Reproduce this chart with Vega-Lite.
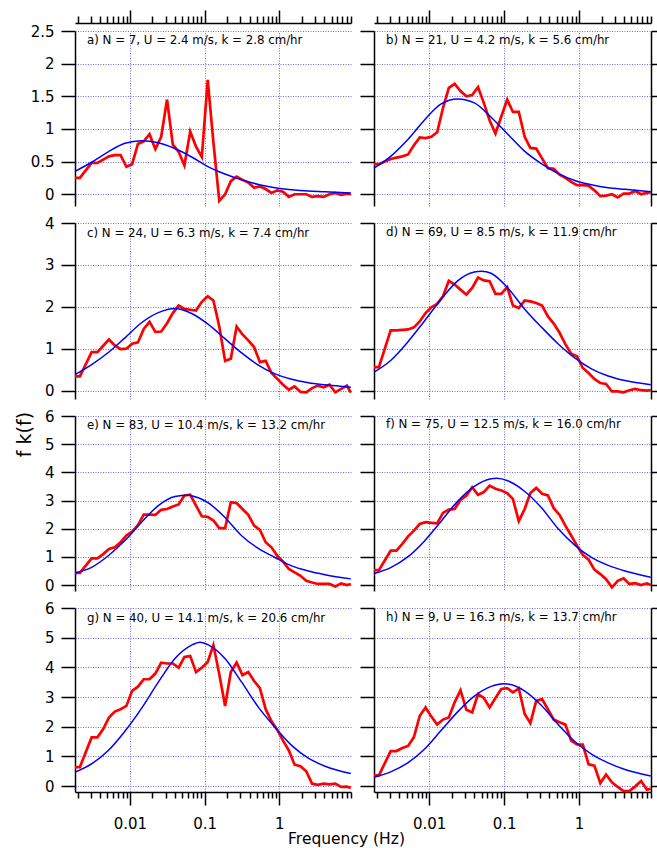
{
"$schema": "https://vega.github.io/schema/vega-lite/v6.json",
"autosize": {"type": "none"},
"padding": {"left": 75, "top": 31, "right": 582, "bottom": 817},
"config": {
 "view": {"stroke": null},
 "font": "DejaVu Sans",
 "axis": {"domainColor": "#000000", "domainWidth": 1.5, "tickColor": "#000000", "tickWidth": 1.5, "labelColor": "#000000", "labelFont": "DejaVu Sans", "titleFont": "DejaVu Sans", "titleColor": "#000000", "titleFontWeight": "normal", "gridColor": "#6a6aff", "gridDash": [1, 1.5], "gridWidth": 1, "gridOpacity": 1, "labelFlush": false, "labelOverlap": false},
 "title": {"font": "DejaVu Sans", "fontSize": 11.8, "fontWeight": "normal", "color": "#000000", "anchor": "start", "frame": "group", "dx": 12}
},
"datasets": {
 "obs": [
  {"hz":0.00184,"a":0.25,"b":0.46,"c":0.34,"d":0.56,"e":0.43,"f":0.53,"g":0.64,"h":0.36},
  {"hz":0.00214,"a":0.25,"b":0.46,"c":0.34,"d":0.56,"e":0.43,"f":0.53,"g":0.64,"h":0.36},
  {"hz":0.00307,"a":0.48,"b":0.54,"c":0.92,"d":1.44,"e":0.95,"f":1.22,"g":1.64,"h":1.18},
  {"hz":0.00367,"a":0.48,"b":0.56,"c":0.92,"d":1.44,"e":0.95,"f":1.22,"g":1.64,"h":1.18},
  {"hz":0.00439,"a":0.53,"b":0.58,"c":1.07,"d":1.45,"e":1.10,"f":1.46,"g":1.92,"h":1.28},
  {"hz":0.00524,"a":0.58,"b":0.61,"c":1.22,"d":1.46,"e":1.28,"f":1.73,"g":2.31,"h":1.35},
  {"hz":0.00627,"a":0.60,"b":0.75,"c":1.08,"d":1.51,"e":1.34,"f":1.93,"g":2.51,"h":1.65},
  {"hz":0.0075,"a":0.60,"b":0.87,"c":0.99,"d":1.65,"e":1.52,"f":2.17,"g":2.59,"h":2.37},
  {"hz":0.00897,"a":0.42,"b":0.86,"c":1.00,"d":1.85,"e":1.76,"f":2.23,"g":2.70,"h":2.65},
  {"hz":0.0107,"a":0.46,"b":0.88,"c":1.12,"d":1.99,"e":1.90,"f":2.21,"g":3.21,"h":2.34},
  {"hz":0.0128,"a":0.77,"b":0.95,"c":1.15,"d":2.07,"e":2.13,"f":2.19,"g":3.35,"h":2.07},
  {"hz":0.0153,"a":0.81,"b":1.32,"c":1.47,"d":2.25,"e":2.50,"f":2.56,"g":3.60,"h":2.24},
  {"hz":0.0183,"a":0.92,"b":1.63,"c":1.64,"d":2.62,"e":2.50,"f":2.68,"g":3.60,"h":2.31},
  {"hz":0.0219,"a":0.69,"b":1.69,"c":1.40,"d":2.53,"e":2.49,"f":2.70,"g":3.79,"h":2.82},
  {"hz":0.0262,"a":0.88,"b":1.58,"c":1.41,"d":2.41,"e":2.67,"f":3.02,"g":4.16,"h":3.23},
  {"hz":0.0314,"a":1.45,"b":1.50,"c":1.61,"d":2.29,"e":2.70,"f":3.18,"g":4.13,"h":2.57},
  {"hz":0.0375,"a":0.76,"b":1.52,"c":1.85,"d":2.45,"e":2.79,"f":3.47,"g":4.13,"h":2.48},
  {"hz":0.0449,"a":0.65,"b":1.64,"c":2.03,"d":2.70,"e":2.86,"f":3.20,"g":3.99,"h":3.10},
  {"hz":0.0536,"a":0.44,"b":1.40,"c":1.95,"d":2.63,"e":3.18,"f":3.30,"g":4.35,"h":2.97},
  {"hz":0.0641,"a":0.96,"b":1.13,"c":1.93,"d":2.61,"e":3.21,"f":3.53,"g":4.38,"h":2.65},
  {"hz":0.0767,"a":0.73,"b":0.93,"c":1.91,"d":2.31,"e":2.82,"f":3.42,"g":3.84,"h":2.97},
  {"hz":0.0917,"a":0.57,"b":1.19,"c":2.12,"d":2.31,"e":2.44,"f":3.36,"g":3.99,"h":3.27},
  {"hz":0.110,"a":1.75,"b":1.45,"c":2.25,"d":2.47,"e":2.42,"f":3.26,"g":4.18,"h":3.30},
  {"hz":0.131,"a":0.80,"b":1.26,"c":2.15,"d":2.03,"e":2.29,"f":3.06,"g":4.75,"h":3.16},
  {"hz":0.157,"a":-0.10,"b":1.26,"c":1.53,"d":1.97,"e":2.02,"f":2.27,"g":3.77,"h":3.29},
  {"hz":0.188,"a":0.00,"b":0.88,"c":0.71,"d":2.15,"e":2.02,"f":2.70,"g":2.70,"h":2.43},
  {"hz":0.224,"a":0.20,"b":0.71,"c":0.76,"d":2.13,"e":2.94,"f":3.27,"g":3.84,"h":2.12},
  {"hz":0.268,"a":0.27,"b":0.70,"c":1.53,"d":2.09,"e":2.91,"f":3.45,"g":4.16,"h":2.87},
  {"hz":0.321,"a":0.22,"b":0.55,"c":1.34,"d":2.03,"e":2.70,"f":3.24,"g":3.74,"h":2.93},
  {"hz":0.384,"a":0.18,"b":0.40,"c":1.20,"d":1.77,"e":2.49,"f":3.18,"g":3.84,"h":2.59},
  {"hz":0.459,"a":0.10,"b":0.39,"c":1.04,"d":1.60,"e":2.11,"f":2.73,"g":3.54,"h":2.24},
  {"hz":0.549,"a":0.12,"b":0.30,"c":0.68,"d":1.38,"e":1.96,"f":2.49,"g":3.30,"h":2.15},
  {"hz":0.656,"a":0.08,"b":0.25,"c":0.71,"d":1.11,"e":1.52,"f":2.11,"g":2.59,"h":2.07},
  {"hz":0.784,"a":0.02,"b":0.19,"c":0.42,"d":0.88,"e":1.34,"f":1.76,"g":2.18,"h":1.53},
  {"hz":0.938,"a":0.06,"b":0.14,"c":0.28,"d":0.82,"e":1.04,"f":1.40,"g":1.89,"h":1.40},
  {"hz":1.12,"a":0.04,"b":0.14,"c":0.14,"d":0.54,"e":0.83,"f":1.07,"g":1.53,"h":1.40},
  {"hz":1.34,"a":-0.04,"b":0.13,"c":0.02,"d":0.42,"e":0.57,"f":0.90,"g":1.20,"h":0.73},
  {"hz":1.60,"a":0.00,"b":0.06,"c":0.10,"d":0.28,"e":0.45,"f":0.55,"g":0.72,"h":0.69},
  {"hz":1.92,"a":0.00,"b":-0.03,"c":-0.03,"d":0.18,"e":0.33,"f":0.39,"g":0.67,"h":0.10},
  {"hz":2.29,"a":0.00,"b":-0.02,"c":-0.04,"d":0.16,"e":0.15,"f":0.21,"g":0.50,"h":0.39},
  {"hz":2.74,"a":-0.04,"b":0.00,"c":0.06,"d":-0.02,"e":0.09,"f":-0.08,"g":0.08,"h":0.13},
  {"hz":3.28,"a":-0.03,"b":-0.05,"c":0.12,"d":-0.02,"e":0.04,"f":0.15,"g":0.04,"h":-0.03},
  {"hz":3.92,"a":-0.04,"b":0.01,"c":0.08,"d":-0.04,"e":0.04,"f":0.24,"g":0.08,"h":-0.17},
  {"hz":4.69,"a":0.00,"b":0.01,"c":0.14,"d":0.01,"e":0.04,"f":0.04,"g":0.06,"h":-0.17},
  {"hz":5.61,"a":0.02,"b":0.05,"c":-0.04,"d":0.04,"e":-0.05,"f":0.07,"g":0.08,"h":-0.01},
  {"hz":6.71,"a":-0.01,"b":0.00,"c":0.04,"d":0.01,"e":0.06,"f":0.00,"g":-0.03,"h":0.17},
  {"hz":8.03,"a":0.01,"b":0.02,"c":0.12,"d":0.00,"e":0.00,"f":0.06,"g":-0.02,"h":-0.12},
  {"hz":9.05,"a":0.00,"b":0.03,"c":-0.05,"d":0.01,"e":0.04,"f":0.00,"g":-0.06,"h":-0.09}
 ],
 "fit": [
  {"p":"a","hz":0.00184,"v":0.35},{"p":"a","hz":0.00307,"v":0.49},{"p":"a","hz":0.00513,"v":0.65},{"p":"a","hz":0.00857,"v":0.78},{"p":"a","hz":0.0143,"v":0.82},{"p":"a","hz":0.024,"v":0.79},{"p":"a","hz":0.0401,"v":0.70},{"p":"a","hz":0.067,"v":0.57},{"p":"a","hz":0.112,"v":0.42},{"p":"a","hz":0.187,"v":0.31},{"p":"a","hz":0.313,"v":0.22},{"p":"a","hz":0.523,"v":0.15},{"p":"a","hz":0.875,"v":0.10},{"p":"a","hz":1.46,"v":0.07},{"p":"a","hz":2.44,"v":0.05},{"p":"a","hz":4.09,"v":0.04},{"p":"a","hz":9.05,"v":0.02},
  {"p":"b","hz":0.00184,"v":0.40},{"p":"b","hz":0.00307,"v":0.58},{"p":"b","hz":0.00513,"v":0.83},{"p":"b","hz":0.00857,"v":1.13},{"p":"b","hz":0.0143,"v":1.38},{"p":"b","hz":0.024,"v":1.46},{"p":"b","hz":0.0401,"v":1.40},{"p":"b","hz":0.067,"v":1.18},{"p":"b","hz":0.112,"v":0.92},{"p":"b","hz":0.187,"v":0.66},{"p":"b","hz":0.313,"v":0.47},{"p":"b","hz":0.523,"v":0.32},{"p":"b","hz":0.875,"v":0.21},{"p":"b","hz":1.46,"v":0.145},{"p":"b","hz":2.44,"v":0.10},{"p":"b","hz":4.09,"v":0.075},{"p":"b","hz":9.05,"v":0.04},
  {"p":"c","hz":0.00184,"v":0.38},{"p":"c","hz":0.00307,"v":0.62},{"p":"c","hz":0.00513,"v":0.91},{"p":"c","hz":0.00857,"v":1.26},{"p":"c","hz":0.0143,"v":1.62},{"p":"c","hz":0.024,"v":1.86},{"p":"c","hz":0.0401,"v":1.96},{"p":"c","hz":0.067,"v":1.84},{"p":"c","hz":0.112,"v":1.58},{"p":"c","hz":0.187,"v":1.24},{"p":"c","hz":0.313,"v":0.90},{"p":"c","hz":0.523,"v":0.61},{"p":"c","hz":0.875,"v":0.40},{"p":"c","hz":1.46,"v":0.27},{"p":"c","hz":2.44,"v":0.19},{"p":"c","hz":4.09,"v":0.14},{"p":"c","hz":9.05,"v":0.08},
  {"p":"d","hz":0.00184,"v":0.44},{"p":"d","hz":0.00307,"v":0.72},{"p":"d","hz":0.00513,"v":1.15},{"p":"d","hz":0.00857,"v":1.65},{"p":"d","hz":0.0143,"v":2.17},{"p":"d","hz":0.024,"v":2.62},{"p":"d","hz":0.0401,"v":2.83},{"p":"d","hz":0.050,"v":2.85},{"p":"d","hz":0.067,"v":2.80},{"p":"d","hz":0.112,"v":2.45},{"p":"d","hz":0.187,"v":1.95},{"p":"d","hz":0.313,"v":1.52},{"p":"d","hz":0.523,"v":1.12},{"p":"d","hz":0.875,"v":0.78},{"p":"d","hz":1.46,"v":0.52},{"p":"d","hz":2.44,"v":0.35},{"p":"d","hz":4.09,"v":0.24},{"p":"d","hz":9.05,"v":0.14},
  {"p":"e","hz":0.00184,"v":0.43},{"p":"e","hz":0.00307,"v":0.63},{"p":"e","hz":0.00513,"v":1.04},{"p":"e","hz":0.00857,"v":1.58},{"p":"e","hz":0.0143,"v":2.23},{"p":"e","hz":0.024,"v":2.82},{"p":"e","hz":0.0401,"v":3.14},{"p":"e","hz":0.0604,"v":3.19},{"p":"e","hz":0.067,"v":3.17},{"p":"e","hz":0.112,"v":2.92},{"p":"e","hz":0.187,"v":2.40},{"p":"e","hz":0.313,"v":1.75},{"p":"e","hz":0.523,"v":1.30},{"p":"e","hz":0.875,"v":0.98},{"p":"e","hz":1.46,"v":0.68},{"p":"e","hz":2.44,"v":0.50},{"p":"e","hz":4.09,"v":0.37},{"p":"e","hz":9.05,"v":0.22},
  {"p":"f","hz":0.00184,"v":0.41},{"p":"f","hz":0.00307,"v":0.62},{"p":"f","hz":0.00513,"v":0.99},{"p":"f","hz":0.00857,"v":1.55},{"p":"f","hz":0.0143,"v":2.25},{"p":"f","hz":0.024,"v":2.97},{"p":"f","hz":0.0401,"v":3.50},{"p":"f","hz":0.067,"v":3.77},{"p":"f","hz":0.0794,"v":3.79},{"p":"f","hz":0.112,"v":3.70},{"p":"f","hz":0.187,"v":3.33},{"p":"f","hz":0.313,"v":2.75},{"p":"f","hz":0.523,"v":2.01},{"p":"f","hz":0.875,"v":1.42},{"p":"f","hz":1.46,"v":0.98},{"p":"f","hz":2.44,"v":0.70},{"p":"f","hz":4.09,"v":0.50},{"p":"f","hz":9.05,"v":0.28},
  {"p":"g","hz":0.00184,"v":0.47},{"p":"g","hz":0.00307,"v":0.75},{"p":"g","hz":0.00513,"v":1.20},{"p":"g","hz":0.00857,"v":1.85},{"p":"g","hz":0.0143,"v":2.62},{"p":"g","hz":0.024,"v":3.50},{"p":"g","hz":0.0401,"v":4.30},{"p":"g","hz":0.067,"v":4.75},{"p":"g","hz":0.0866,"v":4.85},{"p":"g","hz":0.112,"v":4.76},{"p":"g","hz":0.187,"v":4.30},{"p":"g","hz":0.313,"v":3.50},{"p":"g","hz":0.523,"v":2.66},{"p":"g","hz":0.875,"v":1.98},{"p":"g","hz":1.46,"v":1.37},{"p":"g","hz":2.44,"v":0.94},{"p":"g","hz":4.09,"v":0.67},{"p":"g","hz":9.05,"v":0.42},
  {"p":"h","hz":0.00184,"v":0.30},{"p":"h","hz":0.00307,"v":0.48},{"p":"h","hz":0.00513,"v":0.77},{"p":"h","hz":0.00857,"v":1.23},{"p":"h","hz":0.0143,"v":1.86},{"p":"h","hz":0.024,"v":2.50},{"p":"h","hz":0.0401,"v":3.03},{"p":"h","hz":0.067,"v":3.36},{"p":"h","hz":0.0975,"v":3.45},{"p":"h","hz":0.112,"v":3.44},{"p":"h","hz":0.187,"v":3.21},{"p":"h","hz":0.313,"v":2.72},{"p":"h","hz":0.523,"v":2.08},{"p":"h","hz":0.875,"v":1.50},{"p":"h","hz":1.46,"v":1.08},{"p":"h","hz":2.44,"v":0.78},{"p":"h","hz":4.09,"v":0.56},{"p":"h","hz":9.05,"v":0.34}
 ]
},
"columns": 2,
"align": "each",
"bounds": "flush",
"spacing": {"row": 17, "column": 23},
"concat": [
 {"width": 276, "height": 175,
  "title": {"text": "a) N = 7, U = 2.4 m/s, k = 2.8 cm/hr", "offset": -38},
  "layer": [
   {"data": {"name": "obs"}, "mark": {"type": "line", "color": "#ff0000", "strokeWidth": 2.7},
    "encoding": {
     "x": {"field": "hz", "type": "quantitative", "scale": {"type": "log", "domain": [0.00184, 9.1], "nice": false}, "axis": {"orient": "top", "offset": 8, "values": [0.01, 0.1, 1], "grid": true, "tickSize": 13, "labels": false, "title": null}},
     "y": {"field": "a", "type": "quantitative", "scale": {"domain": [-0.18, 2.5], "nice": false, "zero": false}, "axis": {"orient": "left", "values": [0, 0.5, 1, 1.5, 2, 2.5], "format": "~g", "grid": true, "tickSize": 14, "labelFontSize": 15, "labelPadding": 7, "title": null}}}},
   {"data": {"name": "fit"}, "transform": [{"filter": "datum.p == 'a'"}], "mark": {"type": "line", "color": "#0000ff", "strokeWidth": 1.5, "interpolate": "monotone"},
    "encoding": {
     "x": {"field": "hz", "type": "quantitative", "axis": {"orient": "top", "offset": 8, "values": [0.002,0.003,0.004,0.005,0.006,0.007,0.008,0.009,0.02,0.03,0.04,0.05,0.06,0.07,0.08,0.09,0.2,0.3,0.4,0.5,0.6,0.7,0.8,0.9,2,3,4,5,6,7,8,9], "grid": false, "domain": false, "tickSize": 7, "labels": false, "title": null}},
     "y": {"field": "v", "type": "quantitative", "axis": null}}}
  ],
  "resolve": {"axis": {"x": "independent", "y": "independent"}}},
 {"width": 277, "height": 175,
  "title": {"text": "b) N = 21, U = 4.2 m/s, k = 5.6 cm/hr", "offset": -38},
  "layer": [
   {"data": {"name": "obs"}, "mark": {"type": "line", "color": "#ff0000", "strokeWidth": 2.7},
    "encoding": {
     "x": {"field": "hz", "type": "quantitative", "scale": {"type": "log", "domain": [0.00184, 9.1], "nice": false}, "axis": {"orient": "top", "offset": 8, "values": [0.01, 0.1, 1], "grid": true, "tickSize": 13, "labels": false, "title": null}},
     "y": {"field": "b", "type": "quantitative", "scale": {"domain": [-0.18, 2.5], "nice": false, "zero": false}, "axis": {"orient": "left", "values": [0, 0.5, 1, 1.5, 2, 2.5], "grid": true, "tickSize": 14, "labels": false, "title": null}}}},
   {"data": {"name": "fit"}, "transform": [{"filter": "datum.p == 'b'"}], "mark": {"type": "line", "color": "#0000ff", "strokeWidth": 1.5, "interpolate": "monotone"},
    "encoding": {
     "x": {"field": "hz", "type": "quantitative", "axis": {"orient": "top", "offset": 8, "values": [0.002,0.003,0.004,0.005,0.006,0.007,0.008,0.009,0.02,0.03,0.04,0.05,0.06,0.07,0.08,0.09,0.2,0.3,0.4,0.5,0.6,0.7,0.8,0.9,2,3,4,5,6,7,8,9], "grid": false, "domain": false, "tickSize": 7, "labels": false, "title": null}},
     "y": {"field": "v", "type": "quantitative", "axis": {"orient": "right", "values": [0, 0.5, 1, 1.5, 2, 2.5], "grid": false, "tickSize": 14, "labels": false, "title": null}}}}
  ],
  "resolve": {"axis": {"x": "independent", "y": "independent"}}},
 {"width": 276, "height": 176,
  "title": {"text": "c) N = 24, U = 6.3 m/s, k = 7.4 cm/hr", "offset": -24},
  "layer": [
   {"data": {"name": "obs"}, "mark": {"type": "line", "color": "#ff0000", "strokeWidth": 2.7},
    "encoding": {
     "x": {"field": "hz", "type": "quantitative", "scale": {"type": "log", "domain": [0.00184, 9.1], "nice": false}, "axis": {"orient": "bottom", "values": [0.01, 0.1, 1], "grid": true, "domain": false, "ticks": false, "labels": false, "title": null}},
     "y": {"field": "c", "type": "quantitative", "scale": {"domain": [-0.2, 4], "nice": false, "zero": false}, "axis": {"orient": "left", "values": [0, 1, 2, 3, 4], "format": "~g", "grid": true, "tickSize": 14, "labelFontSize": 15, "labelPadding": 7, "title": null}}}},
   {"data": {"name": "fit"}, "transform": [{"filter": "datum.p == 'c'"}], "mark": {"type": "line", "color": "#0000ff", "strokeWidth": 1.5, "interpolate": "monotone"},
    "encoding": {
     "x": {"field": "hz", "type": "quantitative", "axis": null},
     "y": {"field": "v", "type": "quantitative", "axis": null}}}
  ],
  "resolve": {"axis": {"x": "independent", "y": "independent"}}},
 {"width": 277, "height": 176,
  "title": {"text": "d) N = 69, U = 8.5 m/s, k = 11.9 cm/hr", "offset": -17},
  "layer": [
   {"data": {"name": "obs"}, "mark": {"type": "line", "color": "#ff0000", "strokeWidth": 2.7},
    "encoding": {
     "x": {"field": "hz", "type": "quantitative", "scale": {"type": "log", "domain": [0.00184, 9.1], "nice": false}, "axis": {"orient": "bottom", "values": [0.01, 0.1, 1], "grid": true, "domain": false, "ticks": false, "labels": false, "title": null}},
     "y": {"field": "d", "type": "quantitative", "scale": {"domain": [-0.2, 4], "nice": false, "zero": false}, "axis": {"orient": "left", "values": [0, 1, 2, 3, 4], "grid": true, "tickSize": 14, "labels": false, "title": null}}}},
   {"data": {"name": "fit"}, "transform": [{"filter": "datum.p == 'd'"}], "mark": {"type": "line", "color": "#0000ff", "strokeWidth": 1.5, "interpolate": "monotone"},
    "encoding": {
     "x": {"field": "hz", "type": "quantitative", "axis": null},
     "y": {"field": "v", "type": "quantitative", "axis": {"orient": "right", "values": [0, 1, 2, 3, 4], "grid": false, "tickSize": 14, "labels": false, "title": null}}}}
  ],
  "resolve": {"axis": {"x": "independent", "y": "independent"}}},
 {"width": 276, "height": 175,
  "title": {"text": "e) N = 83, U = 10.4 m/s, k = 13.2 cm/hr", "offset": -23},
  "layer": [
   {"data": {"name": "obs"}, "mark": {"type": "line", "color": "#ff0000", "strokeWidth": 2.7},
    "encoding": {
     "x": {"field": "hz", "type": "quantitative", "scale": {"type": "log", "domain": [0.00184, 9.1], "nice": false}, "axis": {"orient": "bottom", "values": [0.01, 0.1, 1], "grid": true, "domain": false, "ticks": false, "labels": false, "title": null}},
     "y": {"field": "e", "type": "quantitative", "scale": {"domain": [-0.21, 6], "nice": false, "zero": false}, "axis": {"orient": "left", "values": [0, 1, 2, 3, 4, 5, 6], "format": "~g", "grid": true, "tickSize": 14, "labelFontSize": 15, "labelPadding": 7, "title": "f k(f)", "titleFontSize": 19, "titleAngle": 270, "titleAlign": "center", "titleBaseline": "middle", "titleX": -51, "titleY": 18}}}},
   {"data": {"name": "fit"}, "transform": [{"filter": "datum.p == 'e'"}], "mark": {"type": "line", "color": "#0000ff", "strokeWidth": 1.5, "interpolate": "monotone"},
    "encoding": {
     "x": {"field": "hz", "type": "quantitative", "axis": null},
     "y": {"field": "v", "type": "quantitative", "axis": null}}}
  ],
  "resolve": {"axis": {"x": "independent", "y": "independent"}}},
 {"width": 277, "height": 175,
  "title": {"text": "f) N = 75, U = 12.5 m/s, k = 16.0 cm/hr", "offset": -16},
  "layer": [
   {"data": {"name": "obs"}, "mark": {"type": "line", "color": "#ff0000", "strokeWidth": 2.7},
    "encoding": {
     "x": {"field": "hz", "type": "quantitative", "scale": {"type": "log", "domain": [0.00184, 9.1], "nice": false}, "axis": {"orient": "bottom", "values": [0.01, 0.1, 1], "grid": true, "domain": false, "ticks": false, "labels": false, "title": null}},
     "y": {"field": "f", "type": "quantitative", "scale": {"domain": [-0.21, 6], "nice": false, "zero": false}, "axis": {"orient": "left", "values": [0, 1, 2, 3, 4, 5, 6], "grid": true, "tickSize": 14, "labels": false, "title": null}}}},
   {"data": {"name": "fit"}, "transform": [{"filter": "datum.p == 'f'"}], "mark": {"type": "line", "color": "#0000ff", "strokeWidth": 1.5, "interpolate": "monotone"},
    "encoding": {
     "x": {"field": "hz", "type": "quantitative", "axis": null},
     "y": {"field": "v", "type": "quantitative", "axis": {"orient": "right", "values": [0, 1, 2, 3, 4, 5, 6], "grid": false, "tickSize": 14, "labels": false, "title": null}}}}
  ],
  "resolve": {"axis": {"x": "independent", "y": "independent"}}},
 {"width": 276, "height": 184,
  "title": {"text": "g) N = 40, U = 14.1 m/s, k = 20.6 cm/hr", "offset": -24},
  "layer": [
   {"data": {"name": "obs"}, "mark": {"type": "line", "color": "#ff0000", "strokeWidth": 2.7},
    "encoding": {
     "x": {"field": "hz", "type": "quantitative", "scale": {"type": "log", "domain": [0.00184, 9.1], "nice": false}, "axis": {"orient": "bottom", "values": [0.01, 0.1, 1], "format": "~g", "grid": true, "tickSize": 13, "labelFontSize": 15, "labelPadding": 11, "title": "Frequency (Hz)", "titleFontSize": 15.5, "titleX": 271, "titleY": 51, "titleAlign": "center", "titleBaseline": "alphabetic"}},
     "y": {"field": "g", "type": "quantitative", "scale": {"domain": [-0.2, 6], "nice": false, "zero": false}, "axis": {"orient": "left", "values": [0, 1, 2, 3, 4, 5, 6], "format": "~g", "grid": true, "tickSize": 14, "labelFontSize": 15, "labelPadding": 7, "title": null}}}},
   {"data": {"name": "fit"}, "transform": [{"filter": "datum.p == 'g'"}], "mark": {"type": "line", "color": "#0000ff", "strokeWidth": 1.5, "interpolate": "monotone"},
    "encoding": {
     "x": {"field": "hz", "type": "quantitative", "axis": {"orient": "bottom", "values": [0.002,0.003,0.004,0.005,0.006,0.007,0.008,0.009,0.02,0.03,0.04,0.05,0.06,0.07,0.08,0.09,0.2,0.3,0.4,0.5,0.6,0.7,0.8,0.9,2,3,4,5,6,7,8,9], "grid": false, "domain": false, "tickSize": 6, "labels": false, "title": null}},
     "y": {"field": "v", "type": "quantitative", "axis": null}}}
  ],
  "resolve": {"axis": {"x": "independent", "y": "independent"}}},
 {"width": 277, "height": 184,
  "title": {"text": "h) N = 9, U = 16.3 m/s, k = 13.7 cm/hr", "offset": -17},
  "layer": [
   {"data": {"name": "obs"}, "mark": {"type": "line", "color": "#ff0000", "strokeWidth": 2.7},
    "encoding": {
     "x": {"field": "hz", "type": "quantitative", "scale": {"type": "log", "domain": [0.00184, 9.1], "nice": false}, "axis": {"orient": "bottom", "values": [0.01, 0.1, 1], "format": "~g", "grid": true, "tickSize": 13, "labelFontSize": 15, "labelPadding": 11, "title": null}},
     "y": {"field": "h", "type": "quantitative", "scale": {"domain": [-0.2, 6], "nice": false, "zero": false}, "axis": {"orient": "left", "values": [0, 1, 2, 3, 4, 5, 6], "grid": true, "tickSize": 14, "labels": false, "title": null}}}},
   {"data": {"name": "fit"}, "transform": [{"filter": "datum.p == 'h'"}], "mark": {"type": "line", "color": "#0000ff", "strokeWidth": 1.5, "interpolate": "monotone"},
    "encoding": {
     "x": {"field": "hz", "type": "quantitative", "axis": {"orient": "bottom", "values": [0.002,0.003,0.004,0.005,0.006,0.007,0.008,0.009,0.02,0.03,0.04,0.05,0.06,0.07,0.08,0.09,0.2,0.3,0.4,0.5,0.6,0.7,0.8,0.9,2,3,4,5,6,7,8,9], "grid": false, "domain": false, "tickSize": 6, "labels": false, "title": null}},
     "y": {"field": "v", "type": "quantitative", "axis": {"orient": "right", "values": [0, 1, 2, 3, 4, 5, 6], "grid": false, "tickSize": 14, "labels": false, "title": null}}}}
  ],
  "resolve": {"axis": {"x": "independent", "y": "independent"}}}
]
}
